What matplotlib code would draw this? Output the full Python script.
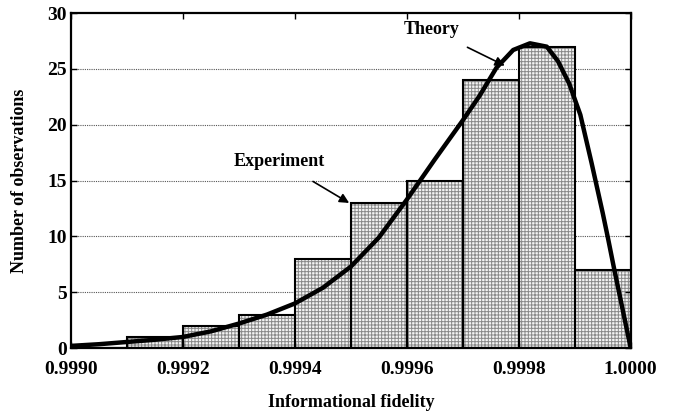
import matplotlib
matplotlib.use("Agg")
import matplotlib.pyplot as plt
import numpy as np

# ---- data ----
bin_edges = [0.9990, 0.9991, 0.9992, 0.9993, 0.9994, 0.9995, 0.9996, 0.9997, 0.9998, 0.9999, 1.0000]
counts = [0, 1, 2, 3, 8, 13, 15, 24, 27, 7]

theory_x = [0.99900, 0.99905, 0.99910, 0.99915, 0.99920, 0.99925, 0.99930, 0.99935,
            0.99940, 0.99945, 0.99950, 0.99955, 0.99960, 0.99965, 0.99970, 0.99973,
            0.99976, 0.99979, 0.99982, 0.99985, 0.99987, 0.99989, 0.99991, 0.99993,
            0.99995, 0.99996, 0.99997, 0.99998, 0.99999, 1.00000]
theory_y = [0.2, 0.35, 0.55, 0.75, 1.0, 1.5, 2.2, 3.0,
            4.0, 5.4, 7.3, 9.9, 13.3, 16.9, 20.4, 22.6,
            25.1, 26.7, 27.3, 27.0, 25.7, 23.7, 20.9, 16.6,
            12.1, 9.7, 7.2, 4.8, 2.4, 0.0]

x_ticks = [0.9990, 0.9992, 0.9994, 0.9996, 0.9998, 1.0000]
x_tick_labels = ["0.9990", "0.9992", "0.9994", "0.9996", "0.9998", "1.0000"]
y_ticks = [0, 5, 10, 15, 20, 25, 30]

plt.rcParams['font.family'] = ['Liberation Serif', 'DejaVu Serif']
plt.rcParams['font.weight'] = 'bold'
plt.rcParams['hatch.linewidth'] = 0.7

fig = plt.figure(figsize=(6.76, 4.11), dpi=100)
ax = fig.add_axes([0.105, 0.153, 0.828, 0.815])

lefts = bin_edges[:-1]
widths = np.diff(bin_edges)

# grid
for yv in y_ticks[1:-1]:
    ax.axhline(yv, color='#555555', linestyle=(0, (1, 1)), linewidth=0.8, zorder=0.5)

# stippled fill
ax.bar(lefts, counts, width=widths, align='edge', facecolor='#f4f4f4',
       edgecolor='#8a8a8a', hatch='+++++', linewidth=0, zorder=1)
# outlines
ax.bar(lefts, counts, width=widths, align='edge', facecolor='none',
       edgecolor='black', linewidth=1.5, zorder=2)

ax.plot(theory_x, theory_y, color='black', linewidth=3.2, zorder=3,
        solid_capstyle='round', solid_joinstyle='round')

ax.set_xlim(0.9990, 1.0000)
ax.set_ylim(0, 30)
ax.set_xticks(x_ticks)
ax.set_xticklabels(x_tick_labels, fontsize=14, fontweight='bold')
ax.set_yticks(y_ticks)
ax.set_yticklabels([str(v) for v in y_ticks], fontsize=14, fontweight='bold')
ax.tick_params(direction='in', length=4, width=1, top=True, right=True, pad=3)
ax.tick_params(axis='x', pad=9)

for s in ax.spines.values():
    s.set_linewidth(1.6)

ax.set_xlabel("Informational fidelity", fontsize=13, fontweight='bold', labelpad=12)
ax.set_ylabel("Number of observations", fontsize=13, fontweight='bold', labelpad=14)

ax.annotate("Experiment", xy=(0.999497, 13.0), xytext=(0.999373, 16.7),
            fontsize=13, fontweight='bold', ha='center', va='center',
            arrowprops=dict(arrowstyle='-|>', color='black', lw=1.2,
                            mutation_scale=14, shrinkA=12, shrinkB=0))
ax.annotate("Theory", xy=(0.999775, 25.3), xytext=(0.999645, 28.5),
            fontsize=13, fontweight='bold', ha='center', va='center',
            arrowprops=dict(arrowstyle='-|>', color='black', lw=1.2,
                            mutation_scale=14, shrinkA=10, shrinkB=0))

fig.savefig("out.png", dpi=100)
